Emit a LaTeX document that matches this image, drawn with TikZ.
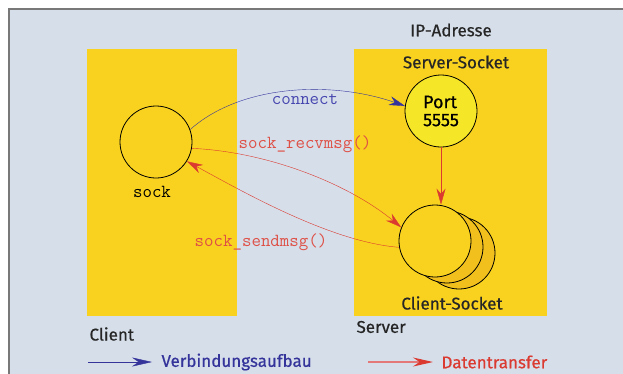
\documentclass[tikz,border=0pt]{standalone}
\usepackage{fontspec}
\setmainfont{Fira Sans}[FakeBold=0.6]
\usetikzlibrary{arrows.meta}
\definecolor{bgblue}{RGB}{214,222,234}
\definecolor{sockyel}{RGB}{249,210,31}
\definecolor{portyel}{RGB}{246,230,40}
\definecolor{backyel}{RGB}{242,192,28}
\definecolor{linkblue}{RGB}{52,52,155}
\definecolor{datared}{RGB}{218,58,48}
\definecolor{codered}{RGB}{222,80,70}
\definecolor{codeblue}{RGB}{70,70,175}
\definecolor{legred}{RGB}{228,120,120}
\definecolor{framegray}{RGB}{120,120,120}

\begin{document}
\begin{tikzpicture}[x=1pt,y=-1pt,>={Stealth[length=16pt,width=9pt]},
  sockc/.style={circle,draw,fill=sockyel,minimum size=72pt,inner sep=0pt,line width=0.8pt},
  title/.style={font=\fontsize{17}{19}\selectfont,text=black!85},
  code/.style={font=\ttfamily\fontsize{18.4}{20}\selectfont}]
\useasboundingbox (0,0) rectangle (623,373);
\fill[bgblue] (9,9) rectangle (640,380);
\draw[framegray,line width=1.2pt] (9,380) -- (9,9) -- (640,9);
\fill[sockyel] (87,49) rectangle (237,316);
\fill[sockyel] (354,49) rectangle (547,316);

\node[sockc] (sock) at (156,142) {};
\node[code] (socklbl) at (152,192) {sock};
\node[title] (ip) at (451,30) {IP-Adresse};
\node[title] (srvsock) at (456,62) {Server-Socket};
\node[sockc,fill=portyel,align=left,font=\fontsize{18}{18}\selectfont] (port) at (441,111) {Port\\5555};
\node[sockc,fill=backyel] (cs3) at (459,253) {};
\node[sockc,fill=backyel] (cs2) at (447,247) {};
\node[sockc] (cs) at (435,241) {};
\node[title] (cslbl) at (452,303) {Client-Socket};
\node[title,anchor=west] (client) at (86,334) {Client};
\node[title,anchor=west] (server) at (353,327) {Server};

\draw[->,linkblue] (sock.20) .. controls (240,85) and (330,80) .. (port.172);
\node[code,text=codeblue] (conlbl) at (305,99) {connect};
\draw[->,datared] (sock.-10) .. controls (270,152) and (350,185) .. (cs.158);
\node[code,text=codered] (recvlbl) at (305,144) {sock\_recvmsg()};
\draw[->,datared] (cs.190) .. controls (330,242) and (240,190) .. (sock.-32);
\node[code,text=codered] (sendlbl) at (261,242) {sock\_sendmsg()};
\draw[->,datared] (port.south) -- (port.south |- cs.north);

% Legende
\coordinate (bl1) at (88,362);
\coordinate (bl2) at (152,362);
\coordinate (rl1) at (368,362);
\coordinate (rl2) at (433,362);
\draw[linkblue,-{Stealth[length=20pt,width=9pt]}] (bl1) -- (bl2);
\node[title,text=linkblue,anchor=west] (verb) at (158,362) {Verbindungsaufbau};
\draw[legred,line width=1.2pt,-{Stealth[length=20pt,width=9pt,color=datared]}] (rl1) -- (rl2);
\node[title,text=datared,anchor=west] (daten) at (438,362) {Datentransfer};
\end{tikzpicture}
\end{document}
